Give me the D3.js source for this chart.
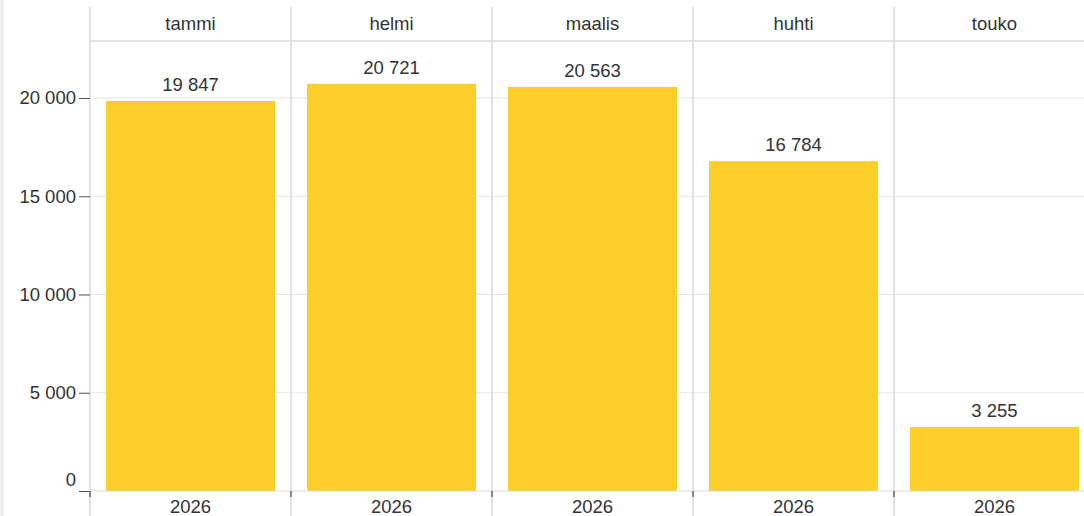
<!DOCTYPE html>
<html>
<head>
<meta charset="utf-8">
<script src="https://cdn.jsdelivr.net/npm/d3@7"></script>
<style>
  body { margin: 0; background: #fff; }
  text { font-family: "Liberation Sans", Arial, sans-serif; fill: #333; }
</style>
</head>
<body>
<svg class="chart"></svg>
<script>
var months = ["tammi", "helmi", "maalis", "huhti", "touko"];
var years = ["2026", "2026", "2026", "2026", "2026"];
var values = [19847, 20721, 20563, 16784, 3255];
var yTicks = [0, 5000, 10000, 15000, 20000];

var width = 1084;
var height = 516;
var svg = d3.select(".chart").attr("width", width).attr("height", height);

var plotLeft = 90, plotTop = 41, plotBottom = 491, panelW = 201, pad = 16;
var fontSize = "18.5px";

// left strip
svg.append("rect").attr("x", 0).attr("y", 0).attr("width", 4).attr("height", height).attr("fill", "#eee");

var fmt = function(v) { return d3.format(",")(v).replace(/,/g, "\u00a0"); };

var x_scale = d3.scaleBand()
    .domain(months)
    .range([plotLeft, plotLeft + panelW * months.length]);

var y_scale = d3.scaleLinear()
    .domain([0, 22900])
    .range([plotBottom, plotTop]);

// grid lines
svg.append("g").selectAll("line").data(yTicks.slice(1)).join("line")
    .attr("x1", plotLeft).attr("x2", width)
    .attr("y1", function(d) { return y_scale(d); })
    .attr("y2", function(d) { return y_scale(d); })
    .attr("stroke", "#e6e6e6");

// header line
svg.append("line").attr("x1", plotLeft).attr("x2", width).attr("y1", plotTop).attr("y2", plotTop)
    .attr("stroke", "#d9d9d9").attr("stroke-width", 1.5);

// panel separators
svg.append("g").selectAll("line").data(months).join("line")
    .attr("x1", function(d) { return x_scale(d); })
    .attr("x2", function(d) { return x_scale(d); })
    .attr("y1", 7).attr("y2", height)
    .attr("stroke", "#d9d9d9").attr("stroke-width", 1.5);

// bars
svg.append("g").selectAll("rect").data(months).join("rect")
    .attr("x", function(d) { return x_scale(d) + pad; })
    .attr("width", x_scale.bandwidth() - 2 * pad)
    .attr("y", function(d, i) { return y_scale(values[i]); })
    .attr("height", function(d, i) { return plotBottom - y_scale(values[i]); })
    .attr("fill", "#fdce2a");

// value labels
svg.append("g").selectAll("text").data(months).join("text")
    .attr("x", function(d) { return x_scale(d) + x_scale.bandwidth() / 2; })
    .attr("y", function(d, i) { return y_scale(values[i]) - 10; })
    .attr("text-anchor", "middle")
    .style("font-size", fontSize)
    .text(function(d, i) { return fmt(values[i]); });

// header labels
svg.append("g").selectAll("text").data(months).join("text")
    .attr("x", function(d) { return x_scale(d) + x_scale.bandwidth() / 2; })
    .attr("y", 30)
    .attr("text-anchor", "middle")
    .style("font-size", fontSize)
    .text(function(d) { return d; });

// bottom labels
svg.append("g").selectAll("text").data(months).join("text")
    .attr("x", function(d) { return x_scale(d) + x_scale.bandwidth() / 2; })
    .attr("y", 513)
    .attr("text-anchor", "middle")
    .style("font-size", fontSize)
    .text(function(d, i) { return years[i]; });

// y axis
var y_axis = d3.axisLeft().scale(y_scale).tickValues(yTicks).tickSize(11).tickPadding(3)
    .tickFormat(fmt);
var ya = svg.append("g").attr("transform", "translate(" + plotLeft + ",0)").call(y_axis);
ya.select(".domain").remove();
ya.selectAll(".tick line").attr("stroke", "#555");
ya.selectAll(".tick text").style("font-size", fontSize).style("fill", "#333")
    .style("font-family", "'Liberation Sans', Arial, sans-serif");
ya.selectAll(".tick text").filter(function(d) { return d === 0; }).attr("dy", "-0.3em");

// bottom axis line and ticks
svg.append("line").attr("x1", plotLeft).attr("x2", width).attr("y1", plotBottom).attr("y2", plotBottom)
    .attr("stroke", "#d9d9d9");
svg.append("g").selectAll("line").data(months).join("line")
    .attr("x1", function(d) { return x_scale(d); })
    .attr("x2", function(d) { return x_scale(d); })
    .attr("y1", plotBottom).attr("y2", plotBottom + 6)
    .attr("stroke", "#888").attr("stroke-width", 2);
</script>
</body>
</html>
